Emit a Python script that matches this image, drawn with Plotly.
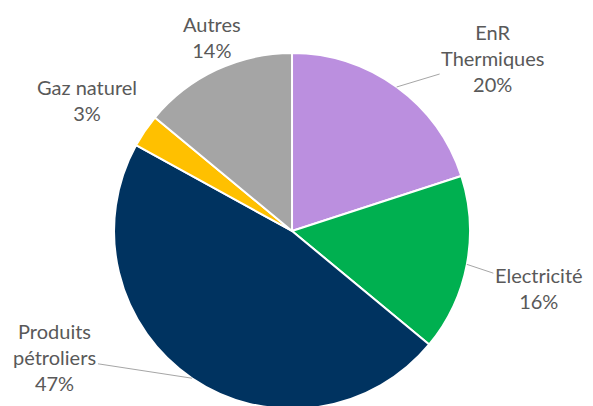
import math
import plotly.graph_objects as go

labels = ['EnR<br>Thermiques', 'Electricité', 'Produits<br>pétroliers', 'Gaz naturel', 'Autres']
values = [20, 16, 47, 3, 14]
colors = ['#bb8fdf', '#00b050', '#003360', '#ffc000', '#a5a5a5']

W, H = 593, 406
pie_x = [0.1788, 0.7791]
pie_y = [0.0123, 0.8892]

# pie geometry in pixels (derived from the domain)
cx = (pie_x[0] + pie_x[1]) / 2 * W
cy = (1 - (pie_y[0] + pie_y[1]) / 2) * H
radius = min((pie_x[1] - pie_x[0]) * W, (pie_y[1] - pie_y[0]) * H) / 2

# label placement: offsets from the slice edge, or a free position
label_pos = [
    dict(ax=96, ay=-29),
    dict(ax=72, ay=24),
    dict(ax=-137, ay=-21),
    dict(x=79, y=92),
    dict(x=204, y=29),
]

font = dict(family='Lato', size=20, color='#595959')

fig = go.Figure(go.Pie(
    labels=labels,
    values=values,
    sort=False,
    direction='clockwise',
    rotation=0,
    marker=dict(colors=colors, line=dict(color='white', width=2)),
    textinfo='none',
    hoverinfo='label+percent',
    domain=dict(x=pie_x, y=pie_y),
    showlegend=False,
))

total = sum(values)
annotations = []
start = 0
for lab, val, pos in zip(labels, values, label_pos):
    mid = (start + val / 2) / total * 2 * math.pi
    start += val
    text = f'{lab}<br>{round(100 * val / total)}%'
    if 'ax' in pos:
        px = cx + radius * math.sin(mid)
        py = cy - radius * math.cos(mid)
        annotations.append(dict(
            x=px / W, y=1 - py / H, xref='paper', yref='paper',
            ax=pos['ax'], ay=pos['ay'], text=text, font=font,
            showarrow=True, arrowhead=0, arrowwidth=1, arrowcolor='#a6a6a6',
        ))
    else:
        annotations.append(dict(
            x=pos['x'] / W, y=1 - pos['y'] / H, xref='paper', yref='paper',
            xanchor='center', yanchor='middle',
            text=text, font=font, showarrow=False,
        ))

fig.update_layout(
    width=W, height=H,
    margin=dict(l=0, r=0, t=0, b=0),
    paper_bgcolor='white',
    plot_bgcolor='white',
    annotations=annotations,
)

fig.write_html('out.html')
